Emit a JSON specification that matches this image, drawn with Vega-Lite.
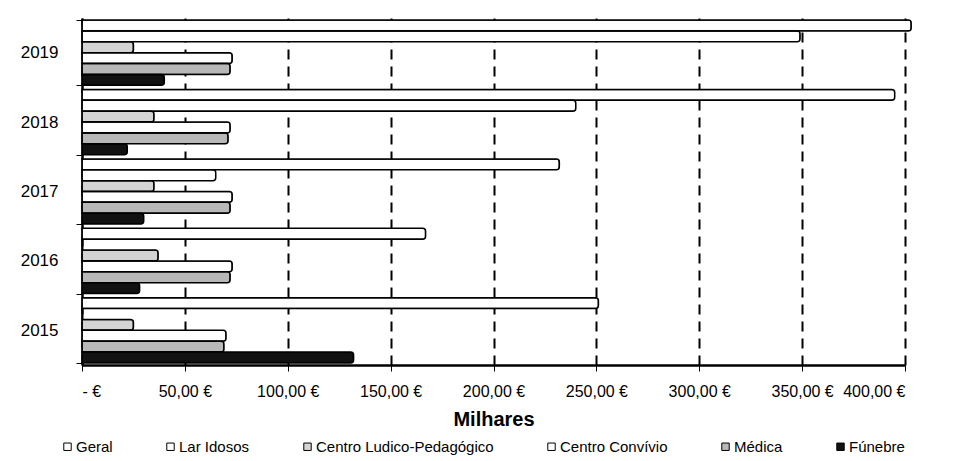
{
  "$schema": "https://vega.github.io/schema/vega-lite/v6.json",
  "autosize": {"type": "none"},
  "padding": {"left": 82, "top": 18, "right": 57, "bottom": 96},
  "width": 823,
  "height": 347,
  "background": "white",
  "config": {
    "font": "Liberation Sans",
    "view": {"stroke": null}
  },
  "data": {
    "values": [
      {"year": "2019", "series": "Geral", "value": 403},
      {"year": "2019", "series": "Lar Idosos", "value": 349},
      {"year": "2019", "series": "Centro Ludico-Pedagógico", "value": 25},
      {"year": "2019", "series": "Centro Convívio", "value": 73},
      {"year": "2019", "series": "Médica", "value": 72},
      {"year": "2019", "series": "Fúnebre", "value": 40},
      {"year": "2018", "series": "Geral", "value": 395},
      {"year": "2018", "series": "Lar Idosos", "value": 240},
      {"year": "2018", "series": "Centro Ludico-Pedagógico", "value": 35},
      {"year": "2018", "series": "Centro Convívio", "value": 72},
      {"year": "2018", "series": "Médica", "value": 71},
      {"year": "2018", "series": "Fúnebre", "value": 22},
      {"year": "2017", "series": "Geral", "value": 232},
      {"year": "2017", "series": "Lar Idosos", "value": 65},
      {"year": "2017", "series": "Centro Ludico-Pedagógico", "value": 35},
      {"year": "2017", "series": "Centro Convívio", "value": 73},
      {"year": "2017", "series": "Médica", "value": 72},
      {"year": "2017", "series": "Fúnebre", "value": 30},
      {"year": "2016", "series": "Geral", "value": 167},
      {"year": "2016", "series": "Lar Idosos", "value": 0},
      {"year": "2016", "series": "Centro Ludico-Pedagógico", "value": 37},
      {"year": "2016", "series": "Centro Convívio", "value": 73},
      {"year": "2016", "series": "Médica", "value": 72},
      {"year": "2016", "series": "Fúnebre", "value": 28},
      {"year": "2015", "series": "Geral", "value": 251},
      {"year": "2015", "series": "Lar Idosos", "value": 0},
      {"year": "2015", "series": "Centro Ludico-Pedagógico", "value": 25},
      {"year": "2015", "series": "Centro Convívio", "value": 70},
      {"year": "2015", "series": "Médica", "value": 69},
      {"year": "2015", "series": "Fúnebre", "value": 132}
    ]
  },
  "mark": {"type": "bar", "stroke": "black", "strokeWidth": 1.5, "cornerRadiusEnd": 3},
  "encoding": {
    "y": {
      "field": "year",
      "type": "nominal",
      "sort": ["2019", "2018", "2017", "2016", "2015"],
      "scale": {"paddingInner": 0.06, "paddingOuter": 0.03},
      "axis": {
        "title": null,
        "labelFontSize": 17,
        "labelColor": "black",
        "labelPadding": 18,
        "domainColor": "black",
        "domainWidth": 2,
        "tickColor": "black",
        "tickSize": 6,
        "tickBand": "extent"
      }
    },
    "yOffset": {
      "field": "series",
      "type": "nominal",
      "sort": ["Geral", "Lar Idosos", "Centro Ludico-Pedagógico", "Centro Convívio", "Médica", "Fúnebre"],
      "scale": {"paddingInner": 0, "paddingOuter": 0}
    },
    "x": {
      "field": "value",
      "type": "quantitative",
      "scale": {"domain": [0, 400], "nice": false},
      "axis": {
        "title": "Milhares",
        "titleFontSize": 20,
        "titleFontWeight": "bold",
        "titleColor": "black",
        "titlePadding": 10,
        "values": [0, 50, 100, 150, 200, 250, 300, 350, 400],
        "labelExpr": "datum.value == 0 ? '-  €' : replace(format(datum.value, '.2f'), '.', ',') + ' €'",
        "labelFontSize": 16,
        "labelColor": "black",
        "labelPadding": 12,
        "domainColor": "black",
        "domainWidth": 2.5,
        "tickColor": "black",
        "tickSize": 6,
        "grid": true,
        "gridColor": "black",
        "gridWidth": 2,
        "gridDash": [10, 7]
      }
    },
    "color": {
      "field": "series",
      "type": "nominal",
      "scale": {
        "domain": ["Geral", "Lar Idosos", "Centro Ludico-Pedagógico", "Centro Convívio", "Médica", "Fúnebre"],
        "range": ["#ffffff", "#ffffff", "#d4d4d4", "#ffffff", "#b8b8b8", "#111111"]
      },
      "legend": {
        "title": null,
        "orient": "none",
        "legendX": -22,
        "legendY": 421,
        "direction": "horizontal",
        "columns": 6,
        "columnPadding": 50,
        "symbolType": "square",
        "symbolSize": 55,
        "symbolStrokeColor": "black",
        "symbolStrokeWidth": 1,
        "labelFontSize": 15,
        "labelLimit": 300,
        "labelColor": "black",
        "labelOffset": 1
      }
    }
  }
}
